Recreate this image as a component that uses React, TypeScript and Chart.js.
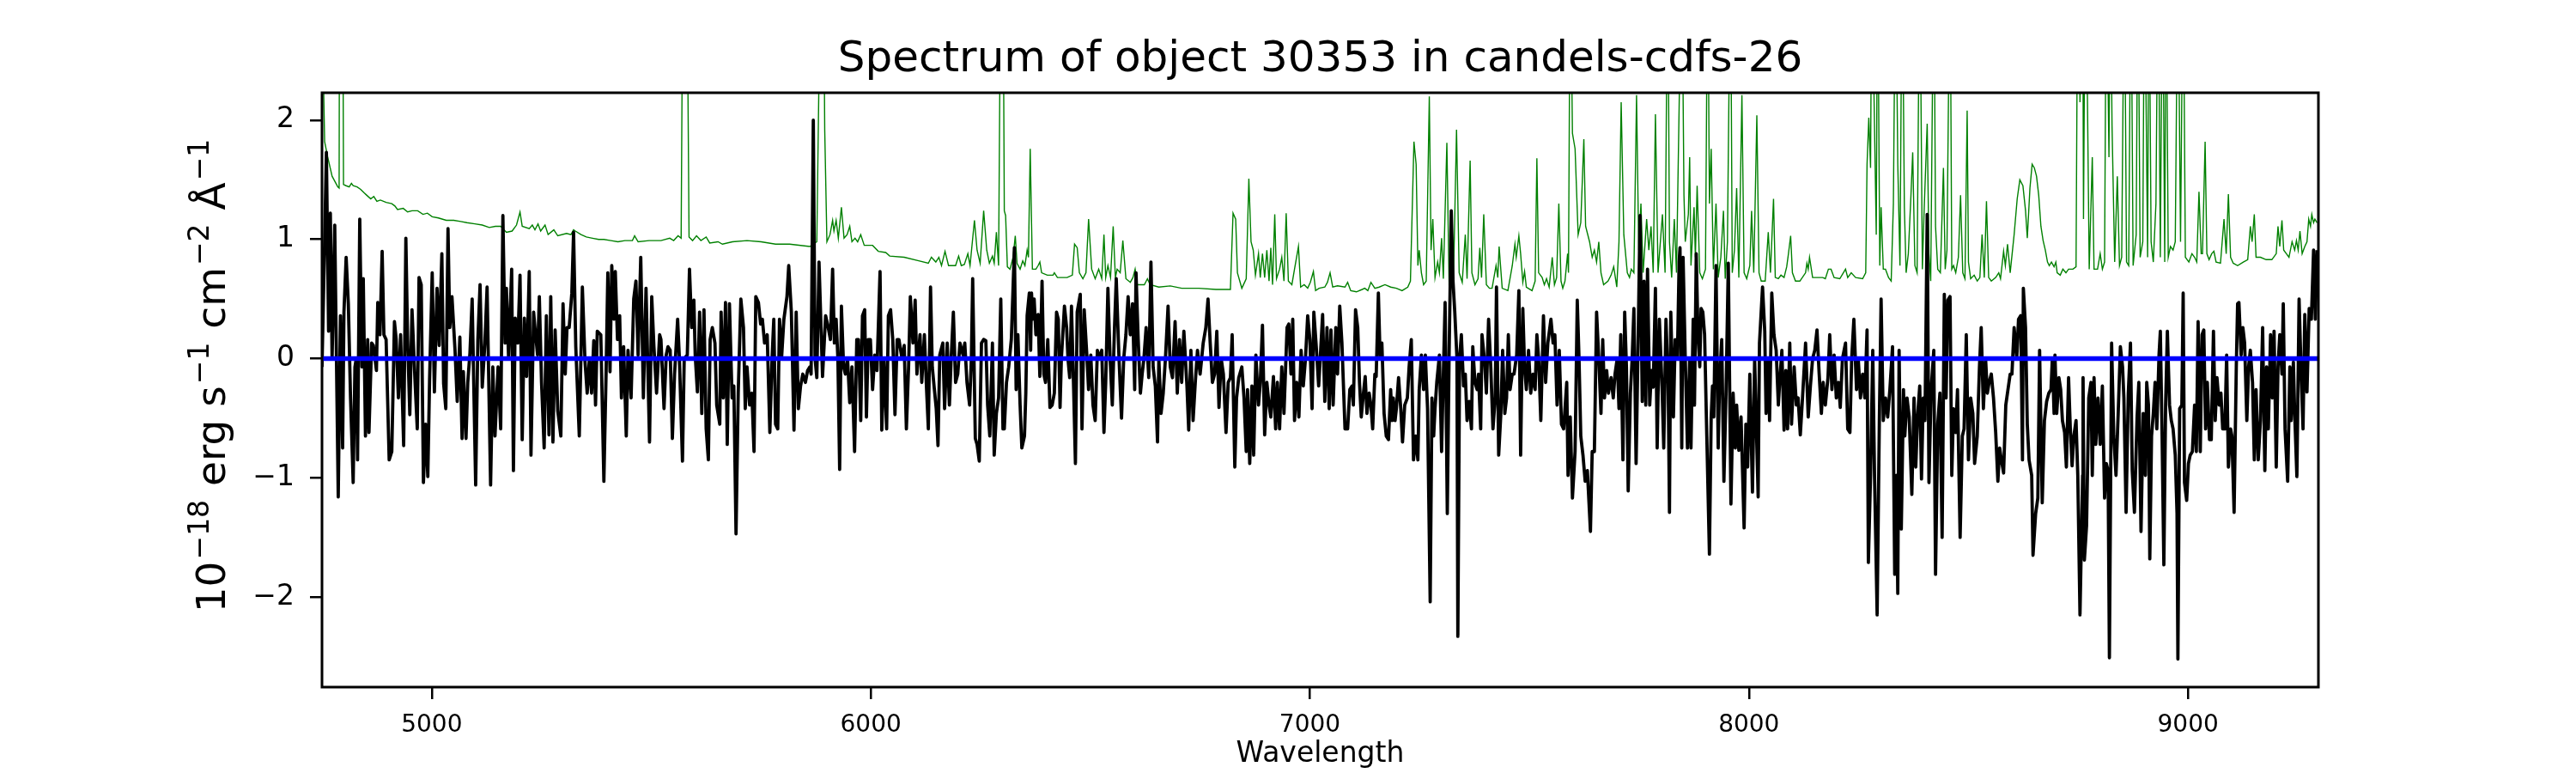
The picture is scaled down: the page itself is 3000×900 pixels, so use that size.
import React, { useEffect, useRef } from "react";
import { Chart, registerables } from "chart.js";

Chart.register(...registerables);

const titleText = "Spectrum of object 30353 in candels-cdfs-26";
const xLabelText = "Wavelength";
const yLabelParts: [string, boolean][] = [
  ["10", false], ["\u221218", true], [" erg s", false], ["\u22121", true],
  [" cm", false], ["\u22122", true], [" \u00C5", false], ["\u22121", true],
];
const xTicks = [5000, 6000, 7000, 8000, 9000];
const yTicks = [-2, -1, 0, 1, 2];
const xRange = [4750, 9297];
const yRange = [-2.756, 2.23];

const zeroLine: [number, number][] = [[4750, 0], [9297, 0]];

const flux1: [number, number][] = [[4750,-0.07],[4756,0.98],[4760,1.73],[4765,0.23],[4769,1.22],[4773,0],[4779,1.12],[4782,0.26],[4787,-1.16],[4792,0.36],[4797,-0.75],[4800,0.39],[4805,0.85],[4810,0.46],[4815,-0.33],[4821,-1.04],[4825,-0.07],[4828,0],[4831,-0.85],[4836,1.17],[4841,-0.07],[4844,0.67],[4849,-0.65],[4854,0.16],[4857,-0.62],[4863,0.13],[4867,0.11],[4874,-0.1],[4877,0.47],[4882,0.2],[4887,0.9],[4891,0.2],[4896,0.16],[4903,-0.85],[4909,-0.78],[4915,0.31],[4919,0.16],[4924,-0.33],[4929,0.2],[4936,-0.73],[4941,1.01],[4945,0.16],[4950,-0.47],[4955,0.41],[4962,-0.2],[4967,-0.59],[4971,0.68],[4976,0.62],[4981,-1.04],[4986,-0.55],[4991,-0.99],[4995,-0.18],[5001,0.72],[5006,-0.28],[5012,0.59],[5017,0.11],[5023,0.88],[5027,-0.21],[5032,-0.42],[5037,1.09],[5041,0.26],[5046,0.52],[5053,0.07],[5058,-0.36],[5064,0.18],[5069,-0.67],[5072,-0.11],[5078,-0.67],[5082,-0.2],[5087,0.05],[5092,0.5],[5100,-1.06],[5105,0.16],[5110,0.62],[5115,-0.24],[5121,0.13],[5126,0.6],[5134,-1.06],[5139,-0.07],[5144,-0.65],[5151,-0.07],[5157,-0.59],[5162,1.2],[5167,0.13],[5170,0.59],[5175,0],[5182,0.75],[5186,-0.94],[5190,0.34],[5196,0.13],[5201,0.7],[5206,-0.68],[5211,0.34],[5216,-0.15],[5222,0.73],[5226,-0.81],[5232,0.39],[5235,0.26],[5241,0.03],[5245,0.52],[5250,-0.2],[5256,-0.75],[5261,0.36],[5267,-0.64],[5271,0.52],[5276,-0.7],[5281,0.24],[5287,-0.44],[5294,-0.65],[5299,0.46],[5304,-0.13],[5308,0.26],[5313,0.26],[5319,0.55],[5323,1.06],[5328,0.1],[5336,-0.65],[5343,0.6],[5349,-0.02],[5354,-0.29],[5359,0],[5364,-0.29],[5369,0.15],[5373,-0.39],[5377,0.23],[5385,0.2],[5392,-1.03],[5397,-0.13],[5401,0.72],[5406,-0.11],[5410,0.78],[5415,0.33],[5418,0.73],[5423,0.16],[5428,0.36],[5432,-0.33],[5437,0.1],[5443,-0.65],[5447,0.07],[5454,-0.33],[5460,0.5],[5465,0.65],[5470,0.03],[5476,0.85],[5482,-0.33],[5488,0.59],[5496,-0.7],[5501,0.52],[5506,0.1],[5512,-0.29],[5519,0.2]];

const flux2: [number, number][] = [[5522,0.16],[5529,-0.42],[5534,0.03],[5538,0.1],[5543,0.07],[5548,-0.67],[5553,-0.13],[5560,0.33],[5564,0],[5571,-0.86],[5575,0],[5582,0.03],[5587,0.75],[5592,0.26],[5597,0.49],[5600,0.03],[5605,-0.28],[5610,0.39],[5615,-0.46],[5620,0.41],[5625,-0.59],[5630,-0.85],[5634,0.16],[5639,0.26],[5645,0.13],[5649,-0.39],[5656,-0.55],[5659,0.39],[5664,-0.33],[5669,0.47],[5673,-0.72],[5678,0.46],[5684,-0.33],[5688,-0.23],[5693,-1.47],[5698,-0.29],[5704,0.5],[5710,0.26],[5714,-0.42],[5718,-0.07],[5724,-0.39],[5729,-0.29],[5734,-0.78],[5738,0.52],[5744,0.47],[5749,0.29],[5753,0.33],[5758,0.13],[5764,0.2],[5770,-0.62],[5775,0],[5779,0.33],[5783,-0.55],[5788,-0.59],[5792,0.33],[5797,0.02],[5802,0.33],[5809,0.52],[5813,0.78],[5819,0.39],[5825,-0.6],[5830,0.39],[5835,-0.42],[5840,-0.23],[5845,-0.13],[5851,-0.2],[5856,-0.1],[5861,-0.07],[5864,-0.13],[5869,2.0],[5873,0],[5877,-0.16],[5882,0.81],[5886,0.33],[5890,-0.15],[5897,0.36],[5903,0.26],[5908,0.16],[5913,0.75],[5917,0.13],[5921,0.33],[5925,0],[5929,-0.93],[5933,0.44],[5938,-0.07],[5942,-0.13],[5947,0],[5952,-0.37],[5957,-0.07],[5963,-0.78],[5968,0.16],[5972,0.16],[5977,-0.52],[5981,0.36],[5986,0.41],[5990,-0.49],[5994,0.16],[5999,0.16],[6004,-0.26],[6009,0.03],[6014,-0.1],[6021,0.73],[6025,-0.6],[6030,0],[6036,-0.59],[6040,0.36],[6045,0.41],[6050,0.16],[6055,-0.47],[6060,0.16],[6064,0.16],[6071,0],[6076,0.11],[6081,-0.59],[6086,-0.07],[6090,0.52],[6096,0.13],[6101,0.49],[6105,-0.13],[6112,0.2],[6116,-0.2],[6122,0.2],[6127,-0.26],[6131,-0.59],[6136,0.6],[6140,-0.07],[6144,-0.23],[6149,-0.42],[6153,-0.73],[6157,0.03],[6164,0.13],[6168,-0.42],[6174,0.13],[6179,-0.39],[6183,0],[6188,0.39],[6193,-0.2],[6198,-0.13],[6203,0.13],[6210,0.03],[6214,0.13],[6219,-0.2],[6225,-0.39],[6229,0],[6232,0.67],[6238,-0.67],[6242,-0.72],[6247,-0.86],[6252,0.13],[6257,0.16],[6262,0.15],[6266,-0.39],[6271,-0.65],[6277,0.13],[6281,-0.81],[6286,-0.46],[6291,-0.33],[6296,0.5],[6301,-0.59]];

const flux3: [number, number][] = [[6304,-0.59],[6309,-0.2],[6314,-0.07],[6320,0.16],[6327,0.93],[6331,-0.26],[6335,0.2],[6340,-0.39],[6344,-0.75],[6350,-0.65],[6353,-0.29],[6356,0.36],[6361,0.55],[6364,0.07],[6366,0.55],[6369,0.33],[6372,0.5],[6376,0.2],[6381,0.37],[6385,-0.15],[6390,0.65],[6394,-0.13],[6398,-0.2],[6403,0.16],[6408,-0.41],[6413,-0.39],[6418,-0.29],[6423,0.39],[6427,0.33],[6431,-0.41],[6434,0],[6441,0.44],[6446,0.26],[6449,0],[6453,-0.16],[6457,0.44],[6462,-0.26],[6466,-0.88],[6470,0.39],[6477,0.54],[6481,-0.59],[6486,0.41],[6492,0.03],[6496,-0.26],[6501,0.03],[6506,-0.39],[6511,-0.52],[6516,0.07],[6520,0],[6526,0.07],[6531,-0.62],[6535,-0.2],[6540,0.59],[6545,0],[6550,-0.39],[6555,0.26],[6559,0.67],[6565,0.03],[6571,-0.5],[6576,0],[6581,0.2],[6586,0.52],[6591,0.2],[6596,0.46],[6601,-0.26],[6604,0.72],[6609,0.16],[6614,-0.29],[6618,-0.13],[6622,0],[6627,0.26],[6633,-0.16],[6638,0.81],[6643,-0.07],[6648,-0.23],[6653,-0.7],[6656,0],[6661,-0.46],[6666,-0.29],[6671,0],[6677,0.44],[6682,-0.07],[6687,-0.16],[6693,0.31],[6698,-0.29],[6703,0.16],[6708,-0.2],[6713,0.23],[6720,-0.23],[6724,-0.6],[6729,0.07],[6734,-0.52],[6739,-0.2],[6744,0.07],[6750,-0.13],[6757,0.13],[6763,0.26],[6768,0.5],[6773,0.13],[6778,-0.2],[6783,-0.13],[6788,0.23],[6793,-0.41],[6798,0],[6803,-0.13],[6809,-0.62],[6814,-0.2],[6819,-0.16],[6823,0.2],[6829,-0.91],[6833,-0.33],[6838,-0.16],[6845,-0.07],[6850,-0.33],[6855,-0.78],[6858,-0.26],[6863,-0.88],[6868,-0.23],[6872,-0.81],[6877,0.03],[6883,-0.39],[6887,-0.2],[6892,0.28],[6897,-0.64],[6902,-0.2],[6907,-0.39],[6911,-0.49],[6917,-0.15],[6922,-0.59],[6926,-0.2],[6931,-0.59],[6936,-0.07],[6941,-0.46],[6948,0.26],[6952,0.29],[6957,-0.13],[6961,0.33],[6965,-0.52],[6970,-0.2],[6975,-0.49],[6980,0.07],[6985,-0.23],[6990,0],[6995,0.36],[7000,0.16],[7005,-0.42],[7009,0.39],[7014,0.13],[7020,-0.23],[7024,0.03],[7029,0.37],[7034,-0.36],[7039,0.26],[7044,-0.42],[7048,0.24],[7053,-0.39],[7059,0.26],[7063,-0.13],[7068,0.44],[7073,0.13],[7080,-0.59]];

const flux4: [number, number][] = [[7086,-0.59],[7091,-0.26],[7096,-0.23],[7099,-0.39],[7104,0.41],[7109,0.26],[7113,-0.2],[7117,-0.49],[7122,-0.29],[7126,-0.15],[7130,-0.46],[7135,-0.29],[7139,-0.39],[7143,-0.59],[7148,-0.13],[7151,-0.15],[7156,0.55],[7160,0],[7164,0.13],[7169,-0.46],[7174,-0.65],[7179,-0.68],[7184,-0.26],[7187,-0.52],[7190,-0.33],[7194,-0.52],[7197,-0.42],[7202,-0.16],[7207,-0.42],[7211,-0.7],[7216,-0.39],[7222,-0.33],[7226,-0.07],[7231,0.16],[7236,-0.85],[7241,-0.65],[7246,-0.85],[7249,-0.26],[7254,0.03],[7259,-0.26],[7263,0.03],[7268,-0.42],[7274,-2.04],[7278,-0.33],[7282,-0.65],[7285,-0.42],[7289,-0.2],[7295,0.03],[7300,-0.78],[7304,-0.13],[7308,0.47],[7313,-1.3],[7317,0],[7322,1.24],[7326,0.65],[7330,0.39],[7335,0],[7337,-2.33],[7341,0],[7345,0.2],[7350,-0.23],[7354,-0.13],[7358,-0.52],[7363,-0.36],[7368,-0.59],[7371,0.1],[7376,-0.2],[7381,-0.26],[7384,-0.13],[7389,-0.59],[7392,0.2],[7398,-0.03],[7402,-0.29],[7407,0.33],[7412,-0.07],[7417,-0.59],[7422,-0.33],[7425,0.6],[7430,-0.81],[7435,-0.46],[7439,0.07],[7444,-0.46],[7448,-0.33],[7452,0.2],[7456,-0.26],[7461,-0.13],[7465,-0.13],[7471,0.03],[7476,0.57],[7480,-0.81],[7485,0.42],[7489,-0.07],[7493,-0.26],[7498,0.07],[7503,-0.29],[7508,-0.13],[7513,-0.26],[7517,0.2],[7521,0],[7526,-0.52],[7532,0.36],[7537,-0.2],[7542,0.13],[7549,0.33],[7554,0.13],[7558,0.2],[7563,-0.39],[7568,0.07],[7573,-0.55],[7578,-0.59],[7585,-0.2],[7588,-0.98],[7593,-0.49],[7598,-1.17],[7604,-0.78],[7609,0.49],[7613,0],[7617,-0.65],[7622,-0.81],[7627,-1.03],[7632,-0.94],[7639,-1.45],[7643,-0.78],[7648,-0.78],[7653,0.39],[7658,0],[7663,-0.46],[7667,0.16],[7671,-0.33],[7676,-0.1],[7680,-0.29],[7686,-0.16],[7691,-0.33],[7695,-0.13],[7700,0],[7704,-0.42],[7708,0.2],[7713,-0.85],[7717,0.39],[7721,-0.07],[7725,-1.11],[7730,-0.29],[7734,0],[7738,0.42],[7743,-0.88],[7747,0],[7752,1.2],[7757,-0.36],[7761,0.65],[7765,-0.39],[7769,0.75],[7774,-0.39],[7778,-0.1],[7782,-0.24],[7787,0.59],[7791,-0.75],[7796,0.33],[7802,-0.23],[7806,-0.75],[7811,0.33],[7816,-0.2],[7819,-1.29],[7822,0.39],[7828,-0.49],[7832,0.16],[7837,0],[7841,0.81],[7843,0.93],[7847,-0.75],[7850,0.85],[7855,0],[7860,-0.75],[7865,0]];

const flux5: [number, number][] = [[7868,-0.75],[7873,0.33],[7876,-0.39],[7880,0.88],[7884,0.2],[7888,-0.07],[7891,0.42],[7895,0.39],[7899,0.2],[7904,-0.65],[7910,-1.64],[7914,-0.49],[7917,-0.23],[7920,-0.49],[7925,0.78],[7930,-0.75],[7933,-0.2],[7938,0.16],[7943,-1.03],[7948,-0.26],[7953,0.8],[7959,-1.22],[7964,-0.29],[7969,-0.75],[7972,-0.39],[7977,-0.77],[7982,-0.49],[7989,-1.42],[7993,-0.55],[7997,-0.91],[8002,-0.13],[8008,-1.12],[8013,0],[8017,-0.59],[8021,-1.16],[8024,0.13],[8031,0.6],[8036,0.23],[8039,-0.46],[8044,0],[8047,-0.52],[8052,0.55],[8057,0.2],[8062,0.07],[8067,-0.39],[8070,-0.2],[8075,0.07],[8080,-0.6],[8084,-0.1],[8088,-0.59],[8093,0.13],[8097,-0.55],[8103,-0.07],[8108,-0.39],[8112,-0.33],[8117,-0.64],[8122,-0.33],[8129,0.13],[8135,-0.49],[8140,-0.23],[8145,0],[8150,0.07],[8155,0.24],[8160,-0.13],[8165,-0.46],[8169,-0.2],[8174,-0.39],[8180,-0.16],[8184,0.2],[8189,-0.26],[8194,0.03],[8199,-0.33],[8204,-0.2],[8208,-0.41],[8213,0],[8220,0.13],[8225,-0.59],[8230,-0.62],[8234,0],[8239,0.33],[8245,-0.26],[8249,0],[8254,-0.33],[8259,-0.13],[8264,-0.33],[8269,0.24],[8272,-1.71],[8277,-0.98],[8282,0.07],[8286,-0.98],[8292,-2.15],[8297,-0.52],[8301,0.5],[8306,-0.52],[8311,-0.33],[8316,-0.49],[8321,-0.26],[8327,0.1],[8332,-1.81],[8336,-0.98],[8339,-1.97],[8342,0.07],[8347,-1.43],[8352,-0.26],[8355,-0.65],[8360,-0.33],[8365,-0.49],[8371,-1.14],[8376,-0.33],[8380,-0.91],[8384,-0.49],[8389,-0.23],[8393,-1.01],[8397,-0.33],[8401,-0.52],[8406,1.21],[8410,-1.04],[8415,-0.26],[8421,0.07],[8425,-1.81],[8430,-0.55],[8435,-0.29],[8440,-1.5],[8445,0.54],[8449,-0.33],[8453,0.49],[8458,0.52],[8462,-0.98],[8466,-0.42],[8471,-0.62],[8475,-0.26],[8481,-1.5],[8486,-0.65],[8490,-0.59],[8495,0.2],[8500,-0.85],[8505,-0.33],[8510,-0.46],[8514,-0.88],[8520,-0.65],[8525,-0.07],[8529,0.26],[8534,-0.42],[8539,0],[8543,-0.29],[8547,-0.2],[8552,-0.13],[8557,-0.33],[8562,-0.62],[8567,-1.03],[8571,-0.75],[8575,-0.85],[8580,-0.96],[8585,-0.39],[8590,-0.26],[8595,-0.13],[8599,-0.13],[8604,0.26],[8610,0],[8614,0.33],[8619,0.36],[8623,-0.85],[8625,0.59],[8630,0.26],[8634,-0.55],[8638,-0.85],[8644,-0.98],[8647,-1.65]];

const flux6: [number, number][] = [[8653,-1.3],[8658,-1.17],[8662,0.07],[8668,-1.21],[8673,-0.52],[8678,-0.36],[8683,-0.29],[8688,-0.26],[8691,0],[8695,-0.46],[8697,0.03],[8701,-0.46],[8706,-0.16],[8710,-0.26],[8714,-0.52],[8719,-0.62],[8723,-0.91],[8728,-0.16],[8732,-0.59],[8736,-0.9],[8740,-0.65],[8745,-0.52],[8749,-0.98],[8754,-2.15],[8760,-0.98],[8761,-0.16],[8764,-1.69],[8769,-1.4],[8774,-0.33],[8779,-0.2],[8782,-0.98],[8786,-0.16],[8790,-0.72],[8795,-0.33],[8800,-0.72],[8805,-0.23],[8810,-1.17],[8814,-0.88],[8818,-0.94],[8821,-2.51],[8826,0.13],[8831,-0.65],[8836,-0.98],[8841,-0.46],[8846,0.1],[8851,-0.07],[8854,-0.33],[8859,-1.29],[8864,-0.29],[8869,0.13],[8873,-0.94],[8878,-1.29],[8884,-0.49],[8888,-0.2],[8893,-1.45],[8898,-0.46],[8903,-0.98],[8906,-0.2],[8910,-0.39],[8913,-1.68],[8917,-0.65],[8921,-0.46],[8925,-0.2],[8929,-0.59],[8934,0.03],[8937,0.23],[8941,-0.65],[8945,-1.73],[8949,-0.39],[8953,0.23],[8958,-0.39],[8962,-0.52],[8966,-0.59],[8971,-0.81],[8975,-1.3],[8977,-2.52],[8981,-0.42],[8986,-0.39],[8989,0.55],[8992,-1.04],[8997,-1.19],[9001,-0.88],[9005,-0.81],[9010,-0.78],[9015,-0.39],[9019,-0.78],[9023,0.31],[9028,-0.78],[9032,0.2],[9036,0.24],[9040,-0.59],[9044,-0.2],[9049,-0.68],[9053,-0.68],[9058,0.23],[9062,-0.52],[9066,-0.16],[9071,-0.39],[9075,-0.29],[9079,-0.59],[9084,-0.59],[9088,0.03],[9092,-0.91],[9097,-0.59],[9100,-0.65],[9105,-1.29],[9110,-0.07],[9113,0.46],[9116,0.47],[9121,0.03],[9125,0.26],[9129,0.13],[9134,-0.52],[9138,-0.07],[9142,0.07],[9147,-0.2],[9151,-0.85],[9155,-0.26],[9160,-0.85],[9165,-0.52],[9170,0.26],[9175,-0.94],[9179,-0.07],[9183,-0.59],[9188,0.2],[9192,-0.33],[9196,0.23],[9201,-0.91],[9205,-0.07],[9209,0.2],[9214,-0.13],[9217,0.46],[9221,-0.59],[9227,-1.03],[9232,-0.07],[9235,-0.52],[9240,-0.03],[9243,-0.46],[9248,-0.99],[9253,0.5],[9258,-0.16],[9262,-0.59],[9266,0.37],[9271,-0.28],[9276,0.42],[9281,0.33],[9286,0.91],[9290,0.33],[9294,0.91]];

const err1: [number, number][] = [[4750,3.0],[4753,2.4],[4756,1.82],[4763,1.69],[4773,1.53],[4786,1.44],[4789,1.43],[4790,3.5],[4797,3.5],[4799,1.46],[4805,1.45],[4812,1.44],[4817,1.47],[4821,1.45],[4830,1.44],[4838,1.42],[4846,1.39],[4852,1.37],[4861,1.34],[4868,1.36],[4875,1.32],[4883,1.33],[4896,1.31],[4909,1.30],[4916,1.28],[4922,1.25],[4935,1.26],[4945,1.23],[4955,1.24],[4968,1.24],[4980,1.21],[4990,1.22],[5001,1.19],[5015,1.18],[5033,1.16],[5050,1.16],[5066,1.15],[5080,1.14],[5098,1.13],[5115,1.12],[5131,1.10],[5145,1.11],[5157,1.11],[5170,1.06],[5183,1.07],[5193,1.12],[5201,1.23],[5206,1.11],[5222,1.09],[5229,1.12],[5235,1.08],[5242,1.13],[5248,1.07],[5258,1.12],[5265,1.04],[5278,1.08],[5287,1.03],[5307,1.05],[5317,1.04],[5323,1.08],[5327,1.07],[5340,1.04],[5352,1.02],[5366,1.01],[5380,1.0],[5392,1.0],[5408,0.99],[5424,0.98],[5440,0.99],[5457,0.99],[5462,1.03],[5470,0.98],[5495,0.99],[5522,0.99]];

const err2: [number, number][] = [[5542,1.01],[5551,0.99],[5561,1.03],[5568,1.01],[5572,3.5],[5581,3.5],[5586,1.02],[5594,0.99],[5603,1.03],[5613,0.99],[5625,1.02],[5633,0.97],[5652,0.98],[5662,0.96],[5685,0.98],[5718,0.99],[5750,0.98],[5783,0.96],[5815,0.96],[5861,0.94],[5877,0.98],[5886,3.5],[5892,3.5],[5895,1.92],[5900,0.98],[5907,1.04],[5913,1.16],[5916,1.07],[5921,1.16],[5926,1.01],[5933,1.27],[5939,1.01],[5946,1.04],[5952,1.11],[5957,0.98],[5964,1.01],[5970,0.98],[5977,1.04],[5985,0.95],[6004,0.95],[6017,0.9],[6034,0.89],[6043,0.86],[6076,0.85],[6109,0.82],[6131,0.8],[6138,0.85],[6148,0.81],[6155,0.85],[6161,0.78],[6169,0.9],[6177,0.78],[6193,0.78],[6200,0.86],[6206,0.78],[6213,0.79],[6221,0.88],[6226,0.78],[6236,1.16],[6242,0.91],[6249,0.8],[6257,1.24],[6264,0.91],[6270,0.8],[6277,0.86],[6281,0.8],[6286,1.06],[6291,0.78],[6296,3.5],[6301,3.5]];

const err3: [number, number][] = [[6304,1.24],[6307,1.2],[6311,0.77],[6317,0.75],[6324,0.85],[6329,1.03],[6333,0.8],[6340,0.75],[6346,0.82],[6351,0.78],[6356,0.91],[6359,0.85],[6363,1.76],[6368,0.75],[6376,0.75],[6381,0.78],[6385,0.81],[6389,0.72],[6402,0.7],[6415,0.7],[6418,0.72],[6425,0.68],[6447,0.68],[6459,0.7],[6464,0.96],[6470,0.93],[6475,0.72],[6483,0.67],[6490,0.72],[6496,1.17],[6503,0.75],[6511,0.67],[6519,0.75],[6526,0.67],[6531,1.04],[6535,0.68],[6540,0.78],[6546,0.68],[6552,1.11],[6557,0.68],[6561,0.75],[6568,0.72],[6574,0.99],[6581,0.67],[6591,0.64],[6597,0.68],[6602,0.75],[6607,0.62],[6623,0.62],[6630,0.67],[6636,0.62],[6656,0.6],[6682,0.61],[6708,0.59],[6747,0.59],[6786,0.58],[6819,0.58],[6825,1.22],[6831,1.17],[6835,0.72],[6845,0.59],[6855,0.67],[6861,1.51],[6866,0.98],[6871,0.91],[6876,0.7],[6883,0.88],[6887,0.68],[6892,0.88],[6897,0.68],[6902,0.91],[6907,0.65],[6911,0.93],[6915,0.62],[6920,1.21],[6924,0.67],[6931,0.75],[6936,0.85],[6941,0.65],[6946,1.22],[6951,0.65],[6959,0.62],[6965,0.75],[6974,0.94],[6979,0.6],[6987,0.62],[6995,0.59],[7001,0.64],[7008,0.73],[7013,0.57],[7021,0.59],[7034,0.6],[7040,0.64],[7046,0.72],[7052,0.6],[7063,0.61],[7080,0.6]];

const err4: [number, number][] = [[7086,0.64],[7093,0.57],[7106,0.56],[7119,0.58],[7125,0.59],[7132,0.57],[7139,0.64],[7148,0.59],[7158,0.6],[7171,0.62],[7184,0.6],[7197,0.59],[7210,0.57],[7223,0.6],[7229,0.65],[7237,1.82],[7242,1.63],[7246,0.78],[7249,0.91],[7254,0.72],[7259,0.62],[7265,0.65],[7272,2.2],[7276,0.91],[7280,1.17],[7285,0.68],[7291,0.81],[7295,0.72],[7300,1.01],[7304,0.67],[7312,1.81],[7317,0.65],[7322,0.72],[7327,0.65],[7334,1.92],[7340,0.72],[7347,0.64],[7354,1.04],[7358,0.67],[7365,1.66],[7369,0.72],[7376,0.62],[7383,0.67],[7387,0.93],[7391,0.68],[7396,1.21],[7402,0.62],[7409,0.59],[7415,0.59],[7424,0.78],[7428,0.68],[7431,0.94],[7438,0.59],[7451,0.57],[7461,0.78],[7467,0.96],[7470,0.85],[7476,1.03],[7480,0.88],[7485,0.64],[7489,0.73],[7493,0.6],[7506,0.57],[7513,0.65],[7517,1.68],[7521,0.72],[7529,0.68],[7534,0.62],[7539,0.67],[7545,0.6],[7552,0.85],[7557,0.62],[7562,0.68],[7567,1.3],[7572,0.65],[7576,0.59],[7581,0.65],[7587,0.88],[7589,0.72],[7593,3.5],[7598,1.89],[7604,1.76],[7611,1.04],[7617,1.14],[7624,1.84],[7628,1.11],[7637,0.98],[7643,0.85],[7648,0.91],[7653,0.81],[7658,0.98],[7663,0.72],[7669,0.62],[7679,0.65],[7686,0.7],[7692,0.77],[7699,0.6],[7704,0.98],[7709,2.15],[7715,1.04],[7719,0.88],[7723,0.72],[7728,0.68],[7732,0.75],[7738,0.72],[7744,2.21],[7749,0.91],[7754,1.3],[7759,0.72],[7767,1.17],[7772,0.91],[7777,1.11],[7782,0.72],[7787,2.05],[7793,0.72],[7803,1.21],[7809,0.72],[7815,3.5],[7819,0.98],[7824,0.68],[7830,1.17],[7835,0.72],[7847,3.5],[7852,1.37],[7855,0.98],[7862,1.21],[7865,1.69]];

const err5: [number, number][] = [[7868,0.78],[7875,1.27],[7878,0.85],[7882,1.45],[7888,0.72],[7894,0.67],[7901,0.75],[7906,3.5],[7910,1.3],[7914,1.76],[7919,0.75],[7925,1.3],[7930,0.68],[7936,0.85],[7942,1.24],[7946,0.67],[7951,0.98],[7958,3.5],[7962,0.72],[7967,0.91],[7972,1.43],[7977,0.68],[7984,2.21],[7989,0.72],[7995,0.67],[8002,0.78],[8006,1.24],[8011,0.72],[8018,2.04],[8023,0.72],[8028,0.65],[8037,0.65],[8044,1.06],[8049,0.72],[8056,1.34],[8060,0.68],[8067,0.67],[8073,0.7],[8080,0.68],[8086,0.77],[8090,0.88],[8095,1.03],[8099,0.72],[8106,0.65],[8116,0.65],[8129,0.72],[8132,0.8],[8135,0.75],[8138,0.85],[8145,0.68],[8155,0.68],[8168,0.68],[8174,0.67],[8181,0.75],[8187,0.75],[8194,0.68],[8207,0.67],[8220,0.75],[8225,0.68],[8233,0.72],[8243,0.68],[8259,0.67],[8266,0.72],[8269,1.63],[8273,2.02],[8277,1.6],[8280,3.5],[8285,2.18],[8290,1.04],[8293,3.5],[8298,0.78],[8301,1.27],[8306,0.75],[8311,0.75],[8318,0.68],[8324,0.65],[8329,1.3],[8334,3.5],[8339,1.63],[8344,0.78],[8349,3.5],[8354,1.27],[8358,0.72],[8363,0.88],[8369,1.37],[8373,1.73],[8378,0.78],[8383,0.72],[8389,3.5],[8395,0.75],[8399,1.24],[8406,1.97],[8410,0.88],[8414,0.65],[8421,3.5],[8425,1.11],[8430,0.75],[8436,0.72],[8443,1.6],[8447,0.75],[8451,0.91],[8458,3.5],[8462,0.75],[8466,0.78],[8471,0.72],[8477,0.85],[8482,1.37],[8487,0.72],[8492,0.67],[8497,2.08],[8500,0.81],[8505,0.67],[8513,0.7],[8520,0.65],[8526,0.68],[8531,1.04],[8536,0.68],[8541,1.32],[8546,0.68],[8552,0.65],[8562,0.68],[8569,0.72],[8573,0.67],[8580,0.9],[8584,0.78],[8589,0.96],[8595,0.72],[8604,1.04],[8611,1.34],[8617,1.5],[8624,1.45],[8630,1.24],[8634,1.01],[8640,1.43],[8645,1.63],[8650,1.6]];

const err6: [number, number][] = [[8655,1.53],[8660,1.37],[8665,1.11],[8670,0.99],[8675,0.91],[8680,0.81],[8684,0.78],[8689,0.81],[8695,0.77],[8699,0.81],[8702,0.72],[8709,0.7],[8715,0.75],[8722,0.72],[8728,0.75],[8738,0.75],[8745,0.77],[8749,3.5],[8754,2.15],[8760,3.5],[8762,1.17],[8766,3.5],[8771,2.18],[8775,0.75],[8782,1.69],[8786,0.75],[8794,0.75],[8800,0.88],[8805,0.75],[8810,0.81],[8814,3.5],[8820,1.69],[8823,3.5],[8827,1.95],[8833,0.81],[8839,1.53],[8844,0.78],[8849,0.85],[8855,3.5],[8860,0.81],[8865,0.78],[8870,3.5],[8875,0.78],[8882,1.04],[8886,3.5],[8891,0.85],[8897,0.98],[8901,3.5],[8908,0.85],[8911,3.5],[8916,0.98],[8921,0.81],[8927,1.3],[8932,3.5],[8937,0.85],[8942,3.5],[8947,0.81],[8950,3.5],[8955,0.85],[8960,0.94],[8966,0.91],[8971,0.98],[8977,3.5],[8983,0.98],[8989,3.5],[8994,0.85],[9002,0.81],[9009,0.88],[9015,0.85],[9020,0.81],[9025,1.4],[9030,0.88],[9033,0.88],[9039,1.82],[9043,0.88],[9048,0.83],[9054,0.88],[9059,0.9],[9064,0.81],[9074,0.8],[9082,1.17],[9087,0.88],[9092,1.38],[9097,0.85],[9103,0.8],[9113,0.78],[9126,0.81],[9136,0.83],[9142,1.11],[9146,0.98],[9151,1.21],[9155,0.85],[9165,0.85],[9178,0.83],[9191,0.83],[9201,0.88],[9205,1.11],[9209,0.94],[9214,1.16],[9218,0.91],[9224,0.88],[9230,0.85],[9237,0.98],[9243,0.91],[9247,0.99],[9251,0.91],[9255,1.07],[9260,0.88],[9266,0.94],[9271,0.98],[9275,1.17],[9279,1.11],[9282,1.21],[9286,1.14],[9289,1.17],[9294,1.14]];

const FONT = '"DejaVu Sans", "Liberation Sans", sans-serif';

function toPoints(...parts: [number, number][][]) {
  const out: { x: number; y: number }[] = [];
  for (const p of parts) for (const [x, y] of p) out.push({ x, y });
  return out;
}

function fmtY(v: number) {
  return v < 0 ? "\u2212" + Math.abs(v) : String(v);
}

export default function App() {
  const ref = useRef<HTMLCanvasElement | null>(null);

  useEffect(() => {
    if (!ref.current) return;

    const framePlugin = {
      id: "frame",
      afterDatasetsDraw(chart: any) {
        const { ctx, chartArea } = chart;
        ctx.save();
        ctx.strokeStyle = "#000";
        ctx.lineWidth = 3;
        ctx.strokeRect(chartArea.left, chartArea.top, chartArea.right - chartArea.left, chartArea.bottom - chartArea.top);
        ctx.restore();
      },
    };

    const textPlugin = {
      id: "texts",
      afterDraw(chart: any) {
        const { ctx, chartArea } = chart;
        const cx = (chartArea.left + chartArea.right) / 2;
        ctx.save();
        ctx.fillStyle = "#000";
        ctx.textBaseline = "alphabetic";
        ctx.textAlign = "center";
        ctx.font = `50px ${FONT}`;
        ctx.fillText(titleText, cx, 83);
        ctx.font = `33px ${FONT}`;
        ctx.fillText(xLabelText, cx, 887);

        // y label with superscripts, rotated
        const mainSize = 47;
        const supSize = 33;
        const supRaise = 19;
        let total = 0;
        const widths: number[] = [];
        for (const [t, sup] of yLabelParts) {
          ctx.font = `${sup ? supSize : mainSize}px ${FONT}`;
          const w = ctx.measureText(t).width + (sup ? 3 : 0);
          widths.push(w);
          total += w;
        }
        ctx.translate(262, 437);
        ctx.rotate(-Math.PI / 2);
        ctx.textAlign = "left";
        let x = -total / 2;
        yLabelParts.forEach(([t, sup], i) => {
          ctx.font = `${sup ? supSize : mainSize}px ${FONT}`;
          ctx.fillText(t, x + (sup ? 2 : 0), sup ? -supRaise : 0);
          x += widths[i];
        });
        ctx.restore();
      },
    };

    const chart = new Chart(ref.current, {
      type: "line",
      data: {
        datasets: [
          {
            label: "zero",
            data: toPoints(zeroLine),
            borderColor: "#0000ff",
            borderWidth: 5.5,
            pointRadius: 0,
            clip: 0 as any,
          },
          {
            label: "flux",
            data: toPoints(flux1, flux2, flux3, flux4, flux5, flux6),
            borderColor: "#000000",
            borderWidth: 3.8,
            borderJoinStyle: "round",
            pointRadius: 0,
            clip: 0 as any,
          },
          {
            label: "error",
            data: toPoints(err1, err2, err3, err4, err5, err6),
            borderColor: "#008000",
            borderWidth: 1.4,
            pointRadius: 0,
            clip: 0 as any,
          },
        ],
      },
      options: {
        animation: false,
        responsive: false,
        devicePixelRatio: 1,
        layout: { padding: { top: 108, right: 300, bottom: 0, left: 0 } },
        plugins: {
          legend: { display: false },
          tooltip: { enabled: false },
          title: { display: false },
        },
        elements: { line: { tension: 0 }, point: { radius: 0 } },
        scales: {
          x: {
            type: "linear",
            min: xRange[0],
            max: xRange[1],
            afterFit: (s: any) => { s.height = 100; },
            afterBuildTicks: (s: any) => { s.ticks = xTicks.map((v) => ({ value: v })); },
            ticks: {
              callback: (v: any) => String(v),
              font: { family: FONT, size: 28 },
              color: "#000",
              padding: 14,
              maxRotation: 0,
              autoSkip: false,
              includeBounds: false,
            },
            grid: { drawOnChartArea: false, drawTicks: true, tickLength: 14, color: "#000", lineWidth: 2.5, tickWidth: 2.5, tickColor: "#000" },
            border: { display: false },
          },
          y: {
            type: "linear",
            min: yRange[0],
            max: yRange[1],
            afterFit: (s: any) => { s.width = 375; },
            afterBuildTicks: (s: any) => { s.ticks = yTicks.map((v) => ({ value: v })); },
            ticks: {
              callback: (v: any) => fmtY(Number(v)),
              font: { family: FONT, size: 33 },
              color: "#000",
              padding: 18,
              autoSkip: false,
              includeBounds: false,
            },
            grid: { drawOnChartArea: false, drawTicks: true, tickLength: 14, color: "#000", lineWidth: 2.5, tickWidth: 2.5, tickColor: "#000" },
            border: { display: false },
          },
        },
      },
      plugins: [framePlugin, textPlugin],
    } as any);

    return () => chart.destroy();
  }, []);

  return (
    <div style={{ position: "absolute", left: 0, top: 0, width: 3000, height: 900, background: "#fff" }}>
      <canvas ref={ref} width={3000} height={900} style={{ width: 3000, height: 900, display: "block" }} />
    </div>
  );
}
